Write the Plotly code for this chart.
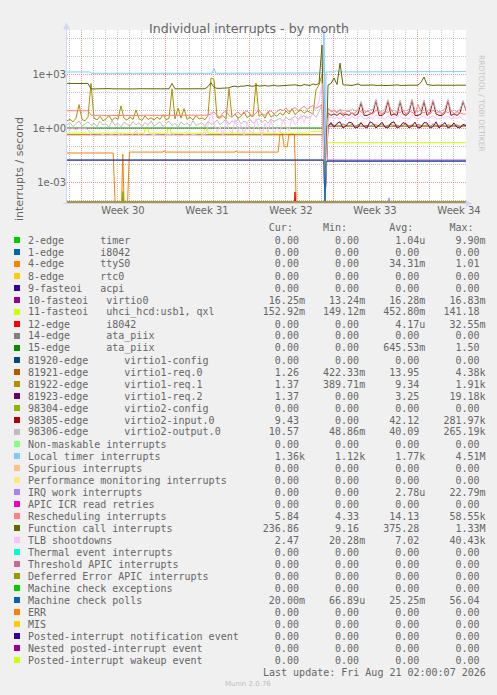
import pandas as pd
import plotly.graph_objects as go

W, H = 497, 695
START = pd.Timestamp("2026-07-18 20:00:00")
END = pd.Timestamp("2026-08-21 02:00:00")

# ---------------- data (time in days from START, values in interrupts/s) ----------------
GRID_T = [i * 0.25 for i in range(134)]          # 6-hourly sample positions
AFTER_T = GRID_T[86:]                             # samples after the reboot
ZERO_T = [0, 33.25]
ZERO_V = [0, 0]

TIMER2_T = [0, 4.62, 4.67, 4.72, 33.25]
TIMER2_V = [0, 0, 0.0003, 0, 0]

TTYS0_T = [0, 3.85, 4.0, 4.55, 4.65, 4.75, 5.05, 5.2, 8.0, 8.1, 8.2, 14.0, 14.1, 14.2,
           17.6, 17.75, 17.95, 18.1, 18.35, 18.5, 18.95, 19.1, 33.25]
TTYS0_V = [0.041, 0.041, 0, 0, 0.035, 0, 0, 0.046, 0.046, 0.055, 0.046, 0.046, 0.055, 0.046,
           0.046, 0.46, 0.46, 0.09, 0.09, 0.45, 0.45, 0, 0]

VIRTIO0_T = [0, 21.4, 21.5, 21.6, 33.25]
VIRTIO0_V = [0.0163, 0.0163, 0, 0.0163, 0.0163]

USB_T = [0, 6.45, 6.5, 6.75, 6.8, 8.35, 8.4, 8.6, 8.65, 11.4, 11.45, 11.7, 11.75,
         20.2, 20.3, 21.4, 21.5, 21.6, 33.25]
USB_V = [0.52, 0.52, 0.95, 0.95, 0.52, 0.52, 0.95, 0.95, 0.52, 0.52, 1.0, 1.0, 0.52,
         0.52, 0.62, 0.62, 0, 0.153, 0.153]

I8042_12_T = [0, 18.95, 19.0, 19.05, 21.45, 21.5, 21.55, 33.25]
I8042_12_V = [0, 0, 0.00028, 0, 0, 0.0005, 0, 0]

ATA15_T = [0, 21.4, 21.5, 33.25]
ATA15_V = [1.0, 1.0, 0, 0]

REQ0_T = [0, 21.4, 21.5, 21.6, 33.25]
REQ0_V = [0.42, 0.42, 0, 1.26, 1.26]

REQ1_V = [2.5, 3.0, 2.2, 3.5, 20, 3.0, 2.5, 4.0, 300, 3.5,
          2.8, 4.5, 2.5, 3.2, 5.0, 2.6, 3.8, 3.0, 17, 3.5,
          2.7, 4.2, 3.0, 10, 3.3, 2.6, 4.8, 3.0, 3.6, 2.8,
          4.0, 3.0, 5.5, 2.9, 3.4, 150, 3.2, 13, 3.5, 12,
          3.0, 4.0, 2.8, 5.0, 3.2, 3.6, 2.9, 5.0, 600, 500,
          4.0, 3.5, 5.0, 3.2, 150, 4.0, 6.0, 3.5, 4.5, 8.0,
          3.8, 5.0, 4.2, 316, 4.5, 6.0, 3.5, 8.0, 4.0, 5.5,
          4.5, 7.0, 5.0, 9.0, 6.0, 12, 5.5, 8.0, 10, 6.5,
          9.0, 7.0, 6.0, 130, 250, 900, 0, 1.4, 1.6, 1.3,
          1.5, 1.2, 1.7, 1.4, 1.3, 1.6, 1.2, 1.5, 1.8, 1.3,
          1.4, 1.2, 1.6, 1.5, 1.3, 1.7, 1.2, 1.4, 1.6, 1.3,
          1.5, 1.2, 1.4, 1.7, 1.3, 1.5, 1.2, 1.6, 1.4, 1.3,
          1.5, 1.2, 1.7, 1.4, 1.3, 1.6, 1.2, 1.5, 1.4, 1.3,
          1.5, 1.2, 1.4, 1.37]

REQ2_V = [0,
          1.2, 2.0, 1.1, 1.8, 2.2, 1.0, 1.3, 2.1, 1.9, 1.0,
          1.1, 2.0, 1.2, 1.0, 2.2, 1.8, 1.0, 1.4, 2.1, 1.1,
          1.0, 1.9, 2.2, 1.0, 1.2, 2.0, 1.7, 1.0, 1.3, 2.1,
          1.0, 1.1, 2.0, 1.9, 1.0, 1.2, 2.2, 1.0, 1.5, 2.0,
          1.0, 1.2, 1.9, 1.1, 1.0, 1.6, 1.37]

INPUT0_V = [0,
            7, 5, 6, 5, 7, 5, 6, 5, 7, 5,
            6, 26, 5, 5, 6, 7, 35, 5, 5, 7,
            33, 5, 6, 5, 30, 6, 5, 7, 35, 5,
            5, 6, 31, 5, 7, 33, 6, 5, 5, 7,
            35, 5, 6, 5, 7, 30, 9.43]

OUTPUT0_V = [1.5, 2.0, 1.2, 1.8, 2.5, 1.3, 1.6, 2.2, 1.4, 1.9,
             1.2, 2.4, 1.5, 1.7, 1.1, 2.6, 1.4, 1.8, 1.2, 2.1,
             1.6, 1.3, 2.3, 1.5, 1.9, 1.2, 2.0, 1.4, 2.5, 1.3,
             1.7, 2.2, 1.2, 1.6, 2.4, 1.4, 1.8, 1.1, 2.2, 1.5,
             1.9, 1.3, 2.6, 1.4, 1.7, 2.0, 1.2, 2.4, 1.6, 1.9,
             2.8, 1.5, 2.2, 3.0, 1.6, 2.5, 1.9, 3.2, 1.7, 2.4,
             2.0, 3.0, 1.8, 2.6, 3.4, 2.0, 2.8, 1.9, 3.1, 2.3,
             2.7, 3.5, 2.2, 4.0, 2.8, 3.3, 4.5, 2.9, 3.8, 5.0,
             3.5, 4.2, 6.0, 4.0, 8.0, 20,
             0,
             12, 9, 10, 8, 11, 9, 10, 8, 12, 9,
             10, 30, 9, 8, 10, 11, 40, 9, 8, 12,
             38, 9, 10, 8, 35, 10, 9, 11, 40, 9,
             8, 10, 36, 9, 11, 38, 10, 8, 9, 12,
             40, 9, 10, 8, 11, 35, 10.57]

LOC_T = [0, 1.9, 2.0, 12.1, 12.25, 12.4, 21.2, 21.35, 21.42, 21.5, 21.58, 22.3, 22.45, 22.6, 33.25]
LOC_V = [1300, 1300, 1100, 1100, 2000, 1100, 1150, 1150, 4.5e6, 0, 1300, 1300, 1550, 1300, 1360]

IRQW_T = [0, 26.78, 26.83, 26.88, 33.25]
IRQW_V = [0, 0, 0.00013, 0, 0]

RES_V = [9, 9.2, 8.8, 9, 9.1, 9, 8.9, 9, 5.2, 5,
         5, 5.1, 4.9, 5, 5, 5.2, 5, 4.9, 5, 5.1,
         5, 5, 4.9, 5, 5.1, 5, 5, 5.2, 5, 5,
         4.9, 5, 5.1, 5, 5, 5, 5.1, 5, 4.9, 5,
         5, 5.1, 5, 5, 5, 4.9, 5, 5.2, 6, 8,
         5, 4, 7, 9, 5, 4, 6, 8, 5, 7,
         9, 6, 4.5, 7, 10, 6, 5, 8, 9, 6,
         8, 11, 9, 13, 8, 10, 14, 9, 12, 16,
         11, 14, 18, 12, 16, 20, 0, 12, 8, 9,
         7, 10, 6, 8, 9, 6, 7, 10, 8, 6,
         9, 7, 6, 10, 8, 6, 9, 7, 11, 6,
         8, 7, 10, 6, 9, 7, 6, 20, 8, 7,
         9, 6, 10, 7, 8, 6, 9, 7, 10, 6,
         8, 7, 6, 5.84]

CALL_V = [300, 310, 300, 295, 305, 300, 300, 300, 150, 148,
          152, 150, 147, 150, 155, 150, 148, 150, 152, 150,
          149, 151, 150, 148, 152, 150, 150, 147, 150, 153,
          150, 149, 150, 151, 150, 300, 151, 150, 148, 150,
          152, 150, 149, 150, 151, 150, 152, 200, 330, 180,
          160, 160, 165, 155, 170, 200, 210, 190, 215, 210,
          230, 220, 205, 240, 215, 220, 230, 210, 225, 240,
          215, 220, 230, 215, 240, 225, 250, 230, 220, 260,
          240, 230, 280, 250, 300, 40000, 0, 240, 300, 600,
          260, 4000, 250, 235, 240, 230, 245, 280, 235, 240,
          230, 238, 245, 232, 240, 236, 228, 242, 235, 240,
          250, 232, 238, 245, 230, 240, 236, 242, 350, 680,
          260, 238, 232, 240, 236, 245, 230, 238, 242, 235,
          240, 232, 238, 237]

TLB_V = [0.9, 0.85, 0.9, 0.8, 0.9, 0.85, 0.9, 0.8, 0.4, 0.35,
         0.4, 0.38, 0.45, 0.35, 0.4, 0.42, 0.36, 0.4, 0.5, 0.38,
         0.4, 0.35, 0.45, 0.7, 0.4, 0.38, 0.42, 0.36, 0.4, 0.45,
         0.38, 0.4, 0.36, 0.42, 0.4, 0.5, 0.38, 0.4, 0.35, 0.42,
         0.4, 0.38, 0.45, 0.4, 0.36, 0.42, 0.4, 1.5, 8, 2.0,
         0.6, 1.2, 0.4, 2.5, 0.8, 0.5, 3.0, 0.6, 1.5, 0.4,
         2.0, 0.7, 0.5, 3.5, 0.9, 0.4, 1.8, 0.6, 2.8, 0.5,
         1.0, 0.6, 3.0, 1.2, 0.7, 4.0, 1.5, 2.5, 6.0, 2.0,
         5.0, 3.0, 8.0, 12, 30, 300, 0, 3.5, 4.0, 3.2,
         3.8, 3.0, 4.2, 3.5, 3.1, 4.5, 3.3, 3.8, 5.0, 3.2,
         3.6, 4.0, 3.1, 5.5, 3.4, 3.9, 3.0, 4.8, 3.5, 3.2,
         4.0, 5.0, 3.3, 3.7, 3.1, 5.2, 3.6, 3.2, 4.1, 4.8,
         3.3, 3.8, 5.0, 3.4, 3.1, 3.9, 3.5, 4.6, 3.2, 3.7,
         3.4, 4.2, 3.0, 2.47]

MCP_T = [0, 21.4, 21.5, 21.6, 33.25]
MCP_V = [0.0167, 0.0167, 0, 0.0140, 0.0140]

for arr in (REQ1_V, OUTPUT0_V, RES_V, CALL_V, TLB_V):
    assert len(arr) == len(GRID_T), len(arr)
for arr in (REQ2_V, INPUT0_V):
    assert len(arr) == len(AFTER_T), len(arr)

LABELS = [
    "2-edge      timer",
    "1-edge      i8042",
    "4-edge      ttyS0",
    "8-edge      rtc0",
    "9-fasteoi   acpi",
    "10-fasteoi   virtio0",
    "11-fasteoi   uhci_hcd:usb1, qxl",
    "12-edge      i8042",
    "14-edge      ata_piix",
    "15-edge      ata_piix",
    "81920-edge      virtio1-config",
    "81921-edge      virtio1-req.0",
    "81922-edge      virtio1-req.1",
    "81923-edge      virtio1-req.2",
    "98304-edge      virtio2-config",
    "98305-edge      virtio2-input.0",
    "98306-edge      virtio2-output.0",
    "Non-maskable interrupts",
    "Local timer interrupts",
    "Spurious interrupts",
    "Performance monitoring interrupts",
    "IRQ work interrupts",
    "APIC ICR read retries",
    "Rescheduling interrupts",
    "Function call interrupts",
    "TLB shootdowns",
    "Thermal event interrupts",
    "Threshold APIC interrupts",
    "Deferred Error APIC interrupts",
    "Machine check exceptions",
    "Machine check polls",
    "ERR",
    "MIS",
    "Posted-interrupt notification event",
    "Nested posted-interrupt event",
    "Posted-interrupt wakeup event",
]

COLORS = ["#00CC00", "#0066B3", "#FF8000", "#FFCC00", "#330099", "#990099", "#CCFF00",
          "#FF0000", "#808080", "#008F00", "#00487D", "#B35A00", "#B38F00", "#6B006B",
          "#8FB300", "#B30000", "#BEBEBE", "#80FF80", "#80C9FF", "#FFC080", "#FFE680",
          "#AA80FF", "#EE00CC", "#FF8080", "#666600", "#FFBFFF", "#00FFCC", "#CC6699",
          "#999900", "#00CC00", "#0066B3", "#FF8000", "#FFCC00", "#330099", "#990099",
          "#CCFF00"]

CUR = ["0.00", "0.00", "0.00", "0.00", "0.00", "16.25m", "152.92m", "0.00", "0.00", "0.00",
       "0.00", "1.26", "1.37", "1.37", "0.00", "9.43", "10.57", "0.00", "1.36k", "0.00",
       "0.00", "0.00", "0.00", "5.84", "236.86", "2.47", "0.00", "0.00", "0.00", "0.00",
       "20.00m", "0.00", "0.00", "0.00", "0.00", "0.00"]
MIN = ["0.00", "0.00", "0.00", "0.00", "0.00", "13.24m", "149.12m", "0.00", "0.00", "0.00",
       "0.00", "422.33m", "389.71m", "0.00", "0.00", "0.00", "48.86m", "0.00", "1.12k", "0.00",
       "0.00", "0.00", "0.00", "4.33", "9.16", "20.28m", "0.00", "0.00", "0.00", "0.00",
       "66.89u", "0.00", "0.00", "0.00", "0.00", "0.00"]
AVG = ["1.04u", "0.00", "34.31m", "0.00", "0.00", "16.28m", "452.80m", "4.17u", "0.00", "645.53m",
       "0.00", "13.95", "9.34", "3.25", "0.00", "42.12", "40.09", "0.00", "1.77k", "0.00",
       "0.00", "2.78u", "0.00", "14.13", "375.28", "7.02", "0.00", "0.00", "0.00", "0.00",
       "25.25m", "0.00", "0.00", "0.00", "0.00", "0.00"]
MAX = ["9.90m", "0.00", "1.01", "0.00", "0.00", "16.83m", "141.18", "32.55m", "0.00", "1.50",
       "0.00", "4.38k", "1.91k", "19.18k", "0.00", "281.97k", "265.19k", "0.00", "4.51M", "0.00",
       "0.00", "22.79m", "0.00", "58.55k", "1.33M", "40.43k", "0.00", "0.00", "0.00", "0.00",
       "56.04", "0.00", "0.00", "0.00", "0.00", "0.00"]

SERIES = [
    (TIMER2_T, TIMER2_V), (ZERO_T, ZERO_V), (TTYS0_T, TTYS0_V), (ZERO_T, ZERO_V),
    (ZERO_T, ZERO_V), (VIRTIO0_T, VIRTIO0_V), (USB_T, USB_V), (I8042_12_T, I8042_12_V),
    (ZERO_T, ZERO_V), (ATA15_T, ATA15_V), (ZERO_T, ZERO_V), (REQ0_T, REQ0_V),
    (GRID_T, REQ1_V), (AFTER_T, REQ2_V), (ZERO_T, ZERO_V), (AFTER_T, INPUT0_V),
    (GRID_T, OUTPUT0_V), (ZERO_T, ZERO_V), (LOC_T, LOC_V), (ZERO_T, ZERO_V),
    (ZERO_T, ZERO_V), (IRQW_T, IRQW_V), (ZERO_T, ZERO_V), (GRID_T, RES_V),
    (GRID_T, CALL_V), (GRID_T, TLB_V), (ZERO_T, ZERO_V), (ZERO_T, ZERO_V),
    (ZERO_T, ZERO_V), (ZERO_T, ZERO_V), (MCP_T, MCP_V), (ZERO_T, ZERO_V),
    (ZERO_T, ZERO_V), (ZERO_T, ZERO_V), (ZERO_T, ZERO_V), (ZERO_T, ZERO_V),
]

# ---------------- geometry / style ----------------
PLOT_L, PLOT_R, PLOT_T, PLOT_B = 67, 466, 30, 203
Y_RANGE = [-4.1667, 5.4444]          # log10 range (18 px per decade)
FLOOR = 10 ** (Y_RANGE[0] + 1 / 18)  # rrdtool draws zero on the baseline
FONT_C = "#666666"
AXIS_C = "#CFD6F8"
GRID_C = "rgba(143,143,143,0.55)"
MGRID_C = "rgba(222,79,79,0.6)"
MONO = "DejaVu Sans Mono"
SANS = "DejaVu Sans"


def px(x):
    return x / W


def py(y):
    return 1 - y / H


fig = go.Figure()
for (ts, vs), col in zip(SERIES, COLORS):
    fig.add_trace(go.Scatter(
        x=[START + pd.Timedelta(days=t) for t in ts],
        y=[v if v > 0 else FLOOR for v in vs],
        mode="lines", line=dict(color=col, width=1),
        hoverinfo="skip", showlegend=False))

annotations = []
shapes = []

# title / axis title / watermark
annotations.append(dict(x=px(248.5), y=py(19), xref="paper", yref="paper", showarrow=False,
                        text="Individual interrupts - by month",
                        font=dict(family=SANS, size=12.6, color=FONT_C)))
annotations.append(dict(x=px(10.5), y=py(115), xref="paper", yref="paper", showarrow=False,
                        text="interrupts / second", textangle=-90,
                        font=dict(family=SANS, size=11, color=FONT_C)))
annotations.append(dict(x=px(488), y=py(53), xref="paper", yref="paper", showarrow=False,
                        text="RRDTOOL / TOBI OETIKER", textangle=90,
                        font=dict(family=SANS, size=7.5, color="#C4C4C4")))


def row_text(label, vals):
    buf = list(label.ljust(80))
    for val, end in zip(vals, (45, 55, 65, 75)):
        if val[-1].isalpha():
            num, suf = val[:-1], val[-1]
        else:
            num, suf = val, ""
        buf[end - len(num):end] = list(num)
        if suf:
            buf[end] = suf
    return "".join(buf).rstrip().replace(" ", "\u00a0")


hdr = list(" " * 80)
for word, col in (("Cur:", 40), ("Min:", 49), ("Avg:", 60), ("Max:", 70)):
    hdr[col:col + 4] = list(word)
annotations.append(dict(x=px(26), y=py(227), xref="paper", yref="paper", showarrow=False,
                        xanchor="left", yanchor="middle",
                        text="".join(hdr).rstrip().replace(" ", "\u00a0"),
                        font=dict(family=MONO, size=10, color=FONT_C)))

for k, lab in enumerate(LABELS):
    yc = 240 + 12 * k
    annotations.append(dict(x=px(26), y=py(yc), xref="paper", yref="paper", showarrow=False,
                            xanchor="left", yanchor="middle",
                            text=row_text(lab, (CUR[k], MIN[k], AVG[k], MAX[k])),
                            font=dict(family=MONO, size=10, color=FONT_C)))
    shapes.append(dict(type="rect", xref="paper", yref="paper",
                       x0=px(14), x1=px(20), y0=py(yc - 3), y1=py(yc + 3),
                       line=dict(width=0), fillcolor=COLORS[k]))

annotations.append(dict(x=px(261), y=py(672), xref="paper", yref="paper", showarrow=False,
                        xanchor="left", yanchor="middle",
                        text="Last update: Fri Aug 21 02:00:07 2026".replace(" ", "\u00a0"),
                        font=dict(family=MONO, size=10, color=FONT_C)))
annotations.append(dict(x=px(223), y=py(684), xref="paper", yref="paper", showarrow=False,
                        xanchor="left", yanchor="middle", text="Munin 2.0.76",
                        font=dict(family=SANS, size=7, color="#BDBDBD")))

# axes with arrows (rrdtool style)
shapes.append(dict(type="line", xref="paper", yref="paper", x0=px(66.5), x1=px(66.5),
                   y0=py(203.5), y1=py(26), line=dict(color=AXIS_C, width=1), layer="above"))
shapes.append(dict(type="line", xref="paper", yref="paper", x0=px(63), x1=px(468),
                   y0=py(203.5), y1=py(203.5), line=dict(color=AXIS_C, width=1), layer="above"))
shapes.append(dict(type="path", xref="paper", yref="paper",
                   path=f"M {px(63.5)} {py(29)} L {px(66.5)} {py(23)} L {px(69.5)} {py(29)} Z",
                   fillcolor=AXIS_C, line=dict(color=AXIS_C, width=0.5), layer="above"))
shapes.append(dict(type="path", xref="paper", yref="paper",
                   path=f"M {px(466)} {py(200.5)} L {px(472)} {py(203.5)} L {px(466)} {py(206.5)} Z",
                   fillcolor=AXIS_C, line=dict(color=AXIS_C, width=0.5), layer="above"))

fig.update_layout(
    width=W, height=H,
    margin=dict(l=0, r=0, t=0, b=0),
    paper_bgcolor="#F0F0F0", plot_bgcolor="#FFFFFF",
    showlegend=False,
    annotations=annotations, shapes=shapes,
    xaxis=dict(
        domain=[px(PLOT_L), px(PLOT_R)], type="date",
        range=[START.strftime("%Y-%m-%d %H:%M:%S"), END.strftime("%Y-%m-%d %H:%M:%S")],
        tick0="2026-07-20", dtick=7 * 86400000, ticklabelmode="period", tickformat="Week %V",
        showgrid=True, gridcolor=MGRID_C, gridwidth=1, griddash="1px,1px",
        minor=dict(tick0="2026-07-20", dtick=86400000, showgrid=True, gridcolor=GRID_C,
                   gridwidth=1, griddash="1px,1px", ticks=""),
        ticks="", showline=False, zeroline=False, automargin=False, fixedrange=True,
        tickfont=dict(family=SANS, size=10, color=FONT_C),
    ),
    yaxis=dict(
        domain=[py(PLOT_B), py(PLOT_T)], type="log", range=Y_RANGE,
        tickmode="array", tickvals=[1e-3, 1, 1e3], ticktext=["1e-03", "1e+00", "1e+03"],
        showgrid=True, gridcolor=MGRID_C, gridwidth=1, griddash="1px,1px",
        minor=dict(tickmode="array", tickvals=[1e-4, 1e-2, 1e-1, 10, 100, 1e4, 1e5],
                   showgrid=True, gridcolor=GRID_C, gridwidth=1, griddash="1px,1px", ticks=""),
        ticks="", showline=False, zeroline=False, automargin=False, fixedrange=True,
        tickfont=dict(family=SANS, size=10, color=FONT_C),
    ),
)

fig.write_html("out.html", config={"displayModeBar": False},
               post_script="document.body.style.margin='0px';document.body.style.overflow='hidden';")
